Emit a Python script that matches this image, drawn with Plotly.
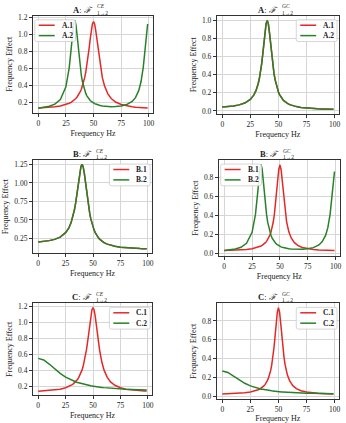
import plotly.graph_objects as go
from plotly.subplots import make_subplots

# frequency samples (Hz)
freq = [0, 5, 10, 15, 20, 25, 28, 30,
        31, 32, 33, 34, 35, 36, 37, 38, 39, 40, 41, 42, 43, 44, 45, 46, 47, 48,
        49, 50, 51, 52, 53, 54, 55, 56,
        58, 60, 63, 66, 70, 75, 80, 85, 88, 91, 93, 95, 97, 99]

# A: CE
a_ce_1 = [0.134, 0.138, 0.143, 0.150, 0.159, 0.176, 0.191, 0.205,
          0.214, 0.223, 0.234, 0.247, 0.262, 0.280, 0.301, 0.326, 0.356, 0.393, 0.437, 0.491, 0.557,
          0.635, 0.728, 0.833, 0.944, 1.047, 1.122, 1.150, 1.122, 1.047, 0.944, 0.833, 0.728, 0.635,
          0.491, 0.393, 0.301, 0.247, 0.205, 0.176, 0.159, 0.150, 0.145, 0.142, 0.140, 0.138, 0.136, 0.135]
a_ce_2 = [0.133, 0.141, 0.155, 0.180, 0.235, 0.384, 0.607, 0.862,
          1.005, 1.120, 1.165, 1.120, 1.005, 0.862, 0.724, 0.608, 0.514, 0.442, 0.385, 0.340, 0.306,
          0.278, 0.257, 0.239, 0.223, 0.212, 0.201, 0.193, 0.186, 0.181, 0.175, 0.171, 0.168, 0.164,
          0.159, 0.155, 0.152, 0.151, 0.152, 0.159, 0.175, 0.212, 0.257, 0.342, 0.443, 0.609, 0.863, 1.121]

# A: GC (both series coincide)
a_gc_1 = [0.045, 0.049, 0.056, 0.067, 0.087, 0.127, 0.174, 0.224,
          0.259, 0.303, 0.358, 0.428, 0.515, 0.622, 0.743, 0.866, 0.963, 1.000, 0.962, 0.864, 0.738,
          0.615, 0.506, 0.417, 0.346, 0.290, 0.245, 0.210, 0.181, 0.158, 0.139, 0.124, 0.111, 0.100,
          0.083, 0.070, 0.057, 0.048, 0.039, 0.032, 0.027, 0.024, 0.023, 0.021, 0.021, 0.020, 0.020, 0.019]
a_gc_2 = list(a_gc_1)

# B: CE (both series coincide)
b_ce_1 = [0.204, 0.211, 0.221, 0.238, 0.269, 0.328, 0.394, 0.464,
          0.510, 0.565, 0.634, 0.715, 0.811, 0.920, 1.036, 1.143, 1.221, 1.250, 1.219, 1.135, 1.020,
          0.896, 0.779, 0.675, 0.588, 0.514, 0.454, 0.405, 0.363, 0.330, 0.302, 0.278, 0.259, 0.241,
          0.215, 0.195, 0.174, 0.159, 0.144, 0.133, 0.125, 0.120, 0.118, 0.116, 0.114, 0.113, 0.112, 0.111]
b_ce_2 = list(b_ce_1)

# B: GC
b_gc_1 = [0.027, 0.028, 0.030, 0.034, 0.038, 0.046, 0.054, 0.060,
          0.065, 0.069, 0.075, 0.081, 0.089, 0.098, 0.110, 0.124, 0.141, 0.162, 0.189, 0.224, 0.269,
          0.328, 0.407, 0.508, 0.632, 0.768, 0.884, 0.930, 0.884, 0.768, 0.632, 0.508, 0.407, 0.328,
          0.224, 0.162, 0.110, 0.081, 0.060, 0.046, 0.038, 0.034, 0.032, 0.030, 0.029, 0.028, 0.028, 0.027]
b_gc_2 = [0.027, 0.033, 0.043, 0.062, 0.104, 0.219, 0.405, 0.633,
          0.770, 0.887, 0.934, 0.887, 0.770, 0.633, 0.507, 0.405, 0.326, 0.267, 0.221, 0.186, 0.158,
          0.138, 0.120, 0.107, 0.095, 0.086, 0.078, 0.072, 0.066, 0.062, 0.058, 0.054, 0.052, 0.050,
          0.046, 0.043, 0.040, 0.040, 0.040, 0.046, 0.058, 0.086, 0.121, 0.187, 0.268, 0.406, 0.634, 0.860]

# C: CE
c_ce_1 = [0.145, 0.149, 0.153, 0.161, 0.170, 0.187, 0.203, 0.218,
          0.226, 0.236, 0.248, 0.260, 0.276, 0.294, 0.317, 0.342, 0.373, 0.411, 0.456, 0.512, 0.579,
          0.660, 0.755, 0.863, 0.978, 1.084, 1.161, 1.190, 1.161, 1.084, 0.978, 0.863, 0.755, 0.660,
          0.512, 0.411, 0.317, 0.260, 0.218, 0.187, 0.170, 0.161, 0.155, 0.152, 0.150, 0.149, 0.147, 0.146]
c_ce_2 = [0.555, 0.535, 0.484, 0.423, 0.367, 0.321, 0.298, 0.285,
          0.279, 0.273, 0.268, 0.262, 0.257, 0.253, 0.248, 0.244, 0.240, 0.236, 0.233, 0.229, 0.226,
          0.223, 0.220, 0.217, 0.215, 0.212, 0.210, 0.207, 0.205, 0.203, 0.201, 0.199, 0.197, 0.196,
          0.192, 0.189, 0.185, 0.182, 0.177, 0.173, 0.169, 0.166, 0.164, 0.163, 0.162, 0.161, 0.160, 0.160]

# C: GC
c_gc_1 = [0.027, 0.028, 0.030, 0.034, 0.038, 0.047, 0.054, 0.060,
          0.065, 0.070, 0.075, 0.082, 0.090, 0.099, 0.111, 0.125, 0.142, 0.164, 0.191, 0.226, 0.272,
          0.332, 0.411, 0.513, 0.639, 0.776, 0.893, 0.940, 0.893, 0.776, 0.639, 0.513, 0.411, 0.332,
          0.226, 0.164, 0.111, 0.082, 0.060, 0.047, 0.038, 0.034, 0.032, 0.030, 0.029, 0.028, 0.028, 0.027]
c_gc_2 = [0.270, 0.254, 0.216, 0.174, 0.139, 0.112, 0.099, 0.092,
          0.088, 0.085, 0.082, 0.080, 0.077, 0.075, 0.072, 0.070, 0.068, 0.066, 0.064, 0.063, 0.061,
          0.059, 0.058, 0.056, 0.055, 0.054, 0.053, 0.052, 0.050, 0.049, 0.048, 0.048, 0.047, 0.046,
          0.044, 0.043, 0.041, 0.039, 0.037, 0.035, 0.033, 0.032, 0.031, 0.031, 0.030, 0.030, 0.029, 0.029]

x_ticks = [0, 25, 50, 75, 100]

RED = 'rgb(228,40,40)'
GREEN = 'rgb(40,128,40)'
FONT = 'Liberation Serif'

W, H = 346, 423


def px(x):
    return x / W


def py(y):
    return 1 - y / H


def rounded_box(l, t, r, b, rad=2):
    # rounded rectangle path in paper coords, input in pixels
    rx, ry = rad / W, rad / H
    L, R, T, B = px(l), px(r), py(t), py(b)
    return (f'M {L + rx},{T} L {R - rx},{T} Q {R},{T} {R},{T - ry} L {R},{B + ry} Q {R},{B} {R - rx},{B} '
            f'L {L + rx},{B} Q {L},{B} {L},{B + ry} L {L},{T - ry} Q {L},{T} {L + rx},{T} Z')


# (letter, kind, series 1, series 2, y range, y ticks, tick format, plot box in px (l, t, r, b), legend corner)
panels = [
    ('A', 'CE', a_ce_1, a_ce_2, [0.08, 1.217], [0.2, 0.4, 0.6, 0.8, 1.0, 1.2], '.1f', (33, 13, 154, 111), 'left'),
    ('A', 'GC', a_gc_1, a_gc_2, [-0.03, 1.05], [0.0, 0.2, 0.4, 0.6, 0.8, 1.0], '.1f', (218, 13, 341, 112), 'right'),
    ('B', 'CE', b_ce_1, b_ce_2, [0.054, 1.307], [0.25, 0.5, 0.75, 1.0, 1.25], '.2f', (33, 159, 153, 253), 'right'),
    ('B', 'GC', b_gc_1, b_gc_2, [-0.03, 0.98], [0.0, 0.2, 0.4, 0.6, 0.8], '.1f', (220, 159, 342, 256), 'left'),
    ('C', 'CE', c_ce_1, c_ce_2, [0.093, 1.242], [0.2, 0.4, 0.6, 0.8, 1.0, 1.2], '.1f', (33, 304, 153, 397), 'right'),
    ('C', 'GC', c_gc_1, c_gc_2, [-0.03, 0.985], [0.0, 0.2, 0.4, 0.6, 0.8], '.1f', (218, 304, 341, 401), 'right'),
]

fig = make_subplots(rows=3, cols=2)

layout = {}
annotations = []
shapes = []
for i, (letter, kind, s1, s2, yr, yt, fmt, box, corner) in enumerate(panels):
    n = i + 1
    row, col = i // 2 + 1, i % 2 + 1

    fig.add_trace(go.Scatter(x=freq, y=s1, mode='lines', name=f'{letter}.1',
                             line=dict(color=RED, width=1.5)), row=row, col=col)
    fig.add_trace(go.Scatter(x=freq, y=s2, mode='lines', name=f'{letter}.2',
                             line=dict(color=GREEN, width=1.5)), row=row, col=col)

    l, t, r, b = box
    ax = '' if n == 1 else str(n)
    layout[f'xaxis{ax}'] = dict(domain=[px(l), px(r)], range=[-4.95, 103.95], tickvals=x_ticks,
                                title=dict(text='Frequency Hz', font=dict(size=8), standoff=3))
    layout[f'yaxis{ax}'] = dict(domain=[py(b), py(t)], range=yr, tickvals=yt, tickformat=fmt,
                                title=dict(text='Frequency Effect', font=dict(size=8), standoff=4))

    # legend box drawn by hand (matplotlib look)
    bw, bh = 41, 22
    bl = l + 2 if corner == 'left' else r - 2 - bw
    bt = t + 4
    shapes.append(dict(type='path', path=rounded_box(bl, bt, bl + bw, bt + bh), xref='paper', yref='paper',
                       line=dict(color='#cccccc', width=0.8), fillcolor='rgba(255,255,255,0.85)', layer='above'))
    for k, (name, color) in enumerate([(f'{letter}.1', RED), (f'{letter}.2', GREEN)]):
        ry = bt + 5.5 + k * 10.5
        shapes.append(dict(type='line', xref='paper', yref='paper', x0=px(bl + 4), x1=px(bl + 20),
                           y0=py(ry), y1=py(ry), line=dict(color=color, width=1.5), layer='above'))
        annotations.append(dict(x=px(bl + 25), y=py(ry), xref='paper', yref='paper', xanchor='left',
                                yanchor='middle', text=f'<b>{name}</b>', showarrow=False,
                                font=dict(size=7.5, color='#222')))

    # title: "X: F" with stacked super / subscript
    cx = (l + r) / 2
    annotations.append(dict(x=px(cx + 2), y=py(t - 6), xref='paper', yref='paper', xanchor='right',
                            yanchor='middle', text=f'<b>{letter}</b>: <i>ℱ</i>', showarrow=False,
                            font=dict(size=8.5)))
    annotations.append(dict(x=px(cx + 2), y=py(t - 9.5), xref='paper', yref='paper', xanchor='left',
                            yanchor='middle', text=f'<i>{kind}</i>', showarrow=False, font=dict(size=5.5)))
    annotations.append(dict(x=px(cx + 2), y=py(t - 3), xref='paper', yref='paper', xanchor='left',
                            yanchor='middle', text='1→2', showarrow=False, font=dict(size=5.5)))

fig.update_layout(**layout)
fig.update_layout(annotations=annotations, shapes=shapes)

fig.update_xaxes(showline=True, mirror=True, linecolor='#333', linewidth=0.8, ticks='outside', ticklen=3,
                 tickwidth=0.8, tickcolor='#333', showgrid=True, gridcolor='#d6d6d6', gridwidth=0.8,
                 zeroline=False, tickfont=dict(size=7.5))
fig.update_yaxes(showline=True, mirror=True, linecolor='#333', linewidth=0.8, ticks='outside', ticklen=3,
                 tickwidth=0.8, tickcolor='#333', showgrid=True, gridcolor='#d6d6d6', gridwidth=0.8,
                 zeroline=False, tickfont=dict(size=7.5))

fig.update_layout(width=W, height=H, margin=dict(l=0, r=0, t=0, b=0),
                  paper_bgcolor='white', plot_bgcolor='white',
                  font=dict(family=FONT, color='#222'), showlegend=False)

# drop the default page margin so the figure sits at the window corner
fig.write_html("out.html", config={'displayModeBar': False},
               post_script="document.body.style.margin='0';")
